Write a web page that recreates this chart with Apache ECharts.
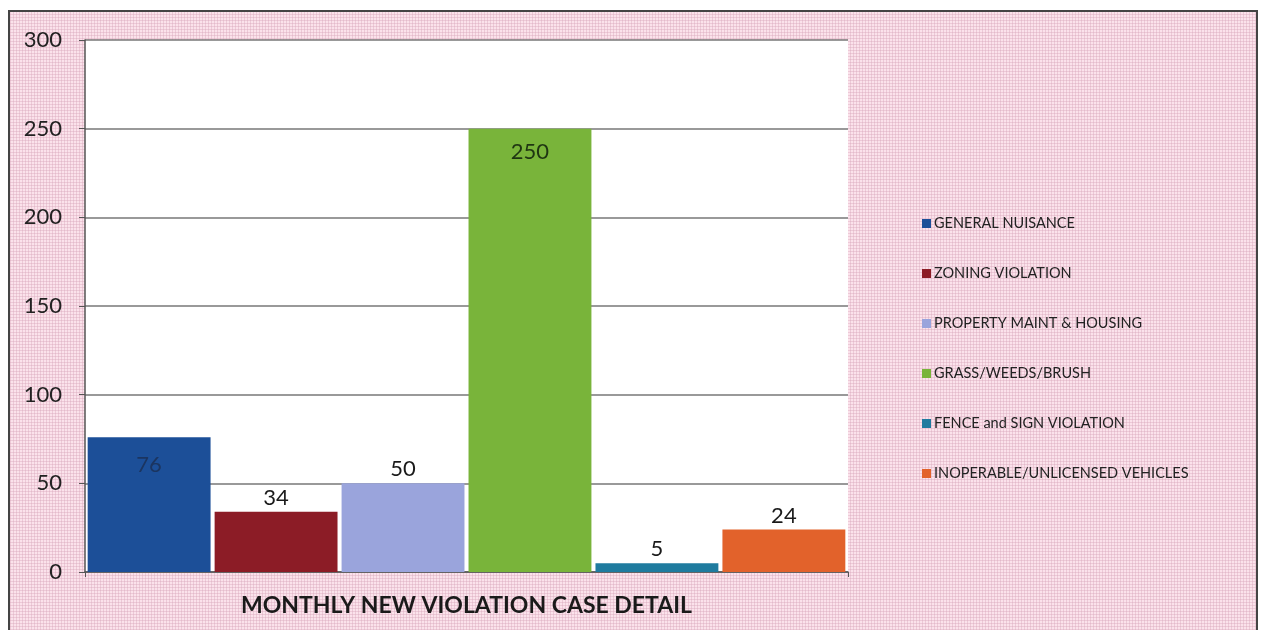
<!DOCTYPE html>
<html>
<head>
<meta charset="utf-8">
<script src="https://cdn.jsdelivr.net/npm/echarts@6/dist/echarts.min.js"></script>
<style>
html,body{margin:0;padding:0;width:1261px;height:630px;overflow:hidden;background:#fff;}
#frame{position:absolute;left:8px;top:10px;width:1246px;height:630px;border:2px solid #444;border-bottom:none;
  background-color:#fbe2eb;
  background-image:
    repeating-linear-gradient(0deg, rgba(215,165,185,0.4) 0px, rgba(215,165,185,0.4) 1px, transparent 1px, transparent 3px),
    repeating-linear-gradient(90deg, rgba(215,165,185,0.4) 0px, rgba(215,165,185,0.4) 1px, transparent 1px, transparent 3px);
}
#chart{position:absolute;left:0;top:0;width:1261px;height:630px;}
</style>
</head>
<body>
<div id="frame"></div>
<div id="chart"></div>
<script>
const categories = [''];
const seriesNames = ['GENERAL NUISANCE','ZONING VIOLATION','PROPERTY MAINT & HOUSING','GRASS/WEEDS/BRUSH','FENCE and SIGN VIOLATION','INOPERABLE/UNLICENSED VEHICLES'];
const seriesValues = [76, 34, 50, 250, 5, 24];
const yTicks = [0, 50, 100, 150, 200, 250, 300];
const xTitle = 'MONTHLY NEW VIOLATION CASE DETAIL';

const colors = ['#1c4f98','#8c1c26','#9aa4dc','#79b43a','#1f7b9f','#e2622b'];
const insideLabel = [true,false,false,true,false,false];
const insideColor = ['#1b3560',null,null,'#1f3512',null,null];

const chart = echarts.init(document.getElementById('chart'), null, {renderer:'canvas'});
const series = seriesNames.map((n,i)=>({
  name:n, type:'bar', data:[seriesValues[i]],
  barGap:'3.3%', barCategoryGap:'0.7%',
  itemStyle:{color:colors[i]},
  label:{show:true, position: insideLabel[i]?'insideTop':'top',
    distance: insideLabel[i]? (i===0?17:12) : 3,
    color: insideLabel[i]?insideColor[i]:'#1a1a1a',
    fontFamily:'Lato', fontSize:22}
}));
chart.setOption({
  animation:false,
  textStyle:{fontFamily:'Lato'},
  grid:{left:85, right:413, top:40, bottom:58, show:true, backgroundColor:'#ffffff', borderWidth:0,
    containLabel:false, outerBoundsMode:'none'},
  legend:{orient:'vertical', left:917, top:211, itemWidth:9, itemHeight:9, itemGap:35,
    icon:'rect',
    textStyle:{fontFamily:'Lato', fontSize:14.5, color:'#222', lineHeight:15, padding:[0,0,0,-2]},
    data:seriesNames},
  xAxis:{type:'category', data:categories,
    name:xTitle, nameLocation:'middle', nameGap:22,
    nameTextStyle:{fontFamily:'Lato', fontSize:23, fontWeight:'bold', color:'#1a1a1a'},
    axisLine:{lineStyle:{color:'#555', width:1.5}},
    axisTick:{show:true, length:5, lineStyle:{color:'#555'}},
    axisLabel:{show:false}},
  yAxis:{type:'value', min:0, max:300, interval:50,
    axisLine:{show:true, lineStyle:{color:'#555', width:1.5}},
    axisTick:{show:true, length:6, lineStyle:{color:'#555'}},
    axisLabel:{fontFamily:'Lato', fontSize:22, color:'#222', margin:23,
      formatter:(v)=> yTicks.includes(v)? String(v):''},
    splitLine:{lineStyle:{color:'#777', width:1.5}}},
  series:series
});
</script>
</body>
</html>
